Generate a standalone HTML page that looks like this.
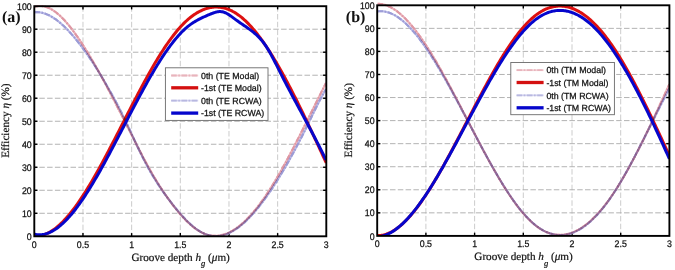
<!DOCTYPE html>
<html><head><meta charset="utf-8"><style>
html,body{margin:0;padding:0;background:#fff;width:675px;height:270px;overflow:hidden}
svg{display:block;text-rendering:geometricPrecision}
.tk{font-family:"Liberation Sans",sans-serif;font-size:9.6px;fill:#111;stroke:#111;stroke-width:0.25px}
.lg{font-family:"Liberation Sans",sans-serif;font-size:8.8px;fill:#111;stroke:#111;stroke-width:0.25px}
.ttl{font-family:"Liberation Serif",serif;font-size:11.2px;fill:#111;stroke:#111;stroke-width:0.2px}
.lab{font-family:"Liberation Serif",serif;font-size:16px;font-weight:bold;fill:#111}
</style></head><body>
<svg xmlns="http://www.w3.org/2000/svg" width="675" height="270" viewBox="0 0 675 270">
<defs><clipPath id="ca"><rect x="34.3" y="3.2" width="292.0" height="233.10000000000002"/></clipPath><clipPath id="cb"><rect x="377.2" y="2.3" width="292.2" height="233.6"/></clipPath></defs>
<rect width="675" height="270" fill="#fff"/>
<line x1="82.97" y1="6.20" x2="82.97" y2="236.30" stroke="#c6c6c6" stroke-width="0.9" stroke-dasharray="5.5 2.3"/>
<line x1="131.63" y1="6.20" x2="131.63" y2="236.30" stroke="#c6c6c6" stroke-width="0.9" stroke-dasharray="5.5 2.3"/>
<line x1="180.30" y1="6.20" x2="180.30" y2="236.30" stroke="#c6c6c6" stroke-width="0.9" stroke-dasharray="5.5 2.3"/>
<line x1="228.97" y1="6.20" x2="228.97" y2="236.30" stroke="#c6c6c6" stroke-width="0.9" stroke-dasharray="5.5 2.3"/>
<line x1="277.63" y1="6.20" x2="277.63" y2="236.30" stroke="#c6c6c6" stroke-width="0.9" stroke-dasharray="5.5 2.3"/>
<line x1="34.30" y1="213.29" x2="326.30" y2="213.29" stroke="#aaaaaa" stroke-width="0.9" stroke-dasharray="5.5 2.3" stroke-dashoffset="-5"/>
<line x1="34.30" y1="190.28" x2="326.30" y2="190.28" stroke="#aaaaaa" stroke-width="0.9" stroke-dasharray="5.5 2.3" stroke-dashoffset="-5"/>
<line x1="34.30" y1="167.27" x2="326.30" y2="167.27" stroke="#aaaaaa" stroke-width="0.9" stroke-dasharray="5.5 2.3" stroke-dashoffset="-5"/>
<line x1="34.30" y1="144.26" x2="326.30" y2="144.26" stroke="#aaaaaa" stroke-width="0.9" stroke-dasharray="5.5 2.3" stroke-dashoffset="-5"/>
<line x1="34.30" y1="121.25" x2="326.30" y2="121.25" stroke="#aaaaaa" stroke-width="0.9" stroke-dasharray="5.5 2.3" stroke-dashoffset="-5"/>
<line x1="34.30" y1="98.24" x2="326.30" y2="98.24" stroke="#aaaaaa" stroke-width="0.9" stroke-dasharray="5.5 2.3" stroke-dashoffset="-5"/>
<line x1="34.30" y1="75.23" x2="326.30" y2="75.23" stroke="#aaaaaa" stroke-width="0.9" stroke-dasharray="5.5 2.3" stroke-dashoffset="-5"/>
<line x1="34.30" y1="52.22" x2="326.30" y2="52.22" stroke="#aaaaaa" stroke-width="0.9" stroke-dasharray="5.5 2.3" stroke-dashoffset="-5"/>
<line x1="34.30" y1="29.21" x2="326.30" y2="29.21" stroke="#aaaaaa" stroke-width="0.9" stroke-dasharray="5.5 2.3" stroke-dashoffset="-5"/>
<line x1="82.97" y1="236.30" x2="82.97" y2="233.10" stroke="#000" stroke-width="1.4"/>
<line x1="82.97" y1="6.20" x2="82.97" y2="9.40" stroke="#000" stroke-width="1.4"/>
<line x1="131.63" y1="236.30" x2="131.63" y2="233.10" stroke="#000" stroke-width="1.4"/>
<line x1="131.63" y1="6.20" x2="131.63" y2="9.40" stroke="#000" stroke-width="1.4"/>
<line x1="180.30" y1="236.30" x2="180.30" y2="233.10" stroke="#000" stroke-width="1.4"/>
<line x1="180.30" y1="6.20" x2="180.30" y2="9.40" stroke="#000" stroke-width="1.4"/>
<line x1="228.97" y1="236.30" x2="228.97" y2="233.10" stroke="#000" stroke-width="1.4"/>
<line x1="228.97" y1="6.20" x2="228.97" y2="9.40" stroke="#000" stroke-width="1.4"/>
<line x1="277.63" y1="236.30" x2="277.63" y2="233.10" stroke="#000" stroke-width="1.4"/>
<line x1="277.63" y1="6.20" x2="277.63" y2="9.40" stroke="#000" stroke-width="1.4"/>
<line x1="34.30" y1="213.29" x2="37.50" y2="213.29" stroke="#000" stroke-width="1.4"/>
<line x1="326.30" y1="213.29" x2="323.10" y2="213.29" stroke="#000" stroke-width="1.4"/>
<line x1="34.30" y1="190.28" x2="37.50" y2="190.28" stroke="#000" stroke-width="1.4"/>
<line x1="326.30" y1="190.28" x2="323.10" y2="190.28" stroke="#000" stroke-width="1.4"/>
<line x1="34.30" y1="167.27" x2="37.50" y2="167.27" stroke="#000" stroke-width="1.4"/>
<line x1="326.30" y1="167.27" x2="323.10" y2="167.27" stroke="#000" stroke-width="1.4"/>
<line x1="34.30" y1="144.26" x2="37.50" y2="144.26" stroke="#000" stroke-width="1.4"/>
<line x1="326.30" y1="144.26" x2="323.10" y2="144.26" stroke="#000" stroke-width="1.4"/>
<line x1="34.30" y1="121.25" x2="37.50" y2="121.25" stroke="#000" stroke-width="1.4"/>
<line x1="326.30" y1="121.25" x2="323.10" y2="121.25" stroke="#000" stroke-width="1.4"/>
<line x1="34.30" y1="98.24" x2="37.50" y2="98.24" stroke="#000" stroke-width="1.4"/>
<line x1="326.30" y1="98.24" x2="323.10" y2="98.24" stroke="#000" stroke-width="1.4"/>
<line x1="34.30" y1="75.23" x2="37.50" y2="75.23" stroke="#000" stroke-width="1.4"/>
<line x1="326.30" y1="75.23" x2="323.10" y2="75.23" stroke="#000" stroke-width="1.4"/>
<line x1="34.30" y1="52.22" x2="37.50" y2="52.22" stroke="#000" stroke-width="1.4"/>
<line x1="326.30" y1="52.22" x2="323.10" y2="52.22" stroke="#000" stroke-width="1.4"/>
<line x1="34.30" y1="29.21" x2="37.50" y2="29.21" stroke="#000" stroke-width="1.4"/>
<line x1="326.30" y1="29.21" x2="323.10" y2="29.21" stroke="#000" stroke-width="1.4"/>
<g clip-path="url(#ca)">
<g style="mix-blend-mode:multiply"><path d="M34.50,6.88 L35.50,6.58 L36.50,6.34 L37.50,6.15 L38.50,6.03 L39.50,5.97 L40.50,5.96 L41.50,6.00 L42.50,6.11 L43.50,6.26 L44.50,6.47 L45.50,6.73 L46.50,7.04 L47.50,7.41 L48.50,7.82 L49.50,8.28 L50.50,8.79 L51.50,9.34 L52.50,9.94 L53.50,10.58 L54.50,11.27 L55.50,12.00 L56.50,12.77 L57.50,13.59 L58.50,14.44 L59.50,15.33 L60.50,16.26 L61.50,17.23 L62.50,18.23 L63.50,19.27 L64.50,20.34 L65.50,21.45 L66.50,22.58 L67.50,23.75 L68.50,24.95 L69.50,26.18 L70.50,27.44 L71.50,28.72 L72.50,30.04 L73.50,31.37 L74.50,32.73 L75.50,34.12 L76.50,35.53 L77.50,36.96 L78.50,38.41 L79.50,39.88 L80.50,41.38 L81.50,42.89 L82.50,44.42 L83.50,45.97 L84.50,47.54 L85.50,49.12 L86.50,50.72 L87.50,52.34 L88.50,53.98 L89.50,55.64 L90.50,57.31 L91.50,58.99 L92.50,60.69 L93.50,62.41 L94.50,64.14 L95.50,65.88 L96.50,67.64 L97.50,69.41 L98.50,71.20 L99.50,72.99 L100.50,74.80 L101.50,76.62 L102.50,78.45 L103.50,80.30 L104.50,82.15 L105.50,84.01 L106.50,85.89 L107.50,87.77 L108.50,89.66 L109.50,91.56 L110.50,93.47 L111.50,95.39 L112.50,97.31 L113.50,99.25 L114.50,101.18 L115.50,103.13 L116.50,105.07 L117.50,107.03 L118.50,108.98 L119.50,110.94 L120.50,112.91 L121.50,114.88 L122.50,116.85 L123.50,118.82 L124.50,120.79 L125.50,122.77 L126.50,124.74 L127.50,126.72 L128.50,128.69 L129.50,130.67 L130.50,132.64 L131.50,134.61 L132.50,136.58 L133.50,138.55 L134.50,140.51 L135.50,142.47 L136.50,144.42 L137.50,146.37 L138.50,148.32 L139.50,150.26 L140.50,152.19 L141.50,154.11 L142.50,156.02 L143.50,157.92 L144.50,159.81 L145.50,161.68 L146.50,163.53 L147.50,165.37 L148.50,167.18 L149.50,168.97 L150.50,170.74 L151.50,172.49 L152.50,174.22 L153.50,175.93 L154.50,177.62 L155.50,179.28 L156.50,180.93 L157.50,182.55 L158.50,184.15 L159.50,185.74 L160.50,187.30 L161.50,188.85 L162.50,190.37 L163.50,191.87 L164.50,193.36 L165.50,194.82 L166.50,196.26 L167.50,197.69 L168.50,199.10 L169.50,200.48 L170.50,201.85 L171.50,203.20 L172.50,204.53 L173.50,205.84 L174.50,207.13 L175.50,208.41 L176.50,209.66 L177.50,210.89 L178.50,212.09 L179.50,213.28 L180.50,214.44 L181.50,215.58 L182.50,216.69 L183.50,217.78 L184.50,218.84 L185.50,219.88 L186.50,220.89 L187.50,221.87 L188.50,222.82 L189.50,223.74 L190.50,224.64 L191.50,225.50 L192.50,226.34 L193.50,227.14 L194.50,227.91 L195.50,228.65 L196.50,229.35 L197.50,230.03 L198.50,230.66 L199.50,231.27 L200.50,231.83 L201.50,232.36 L202.50,232.86 L203.50,233.31 L204.50,233.73 L205.50,234.11 L206.50,234.45 L207.50,234.75 L208.50,235.02 L209.50,235.24 L210.50,235.43 L211.50,235.59 L212.50,235.70 L213.50,235.78 L214.50,235.82 L215.50,235.83 L216.50,235.80 L217.50,235.74 L218.50,235.64 L219.50,235.50 L220.50,235.33 L221.50,235.13 L222.50,234.89 L223.50,234.62 L224.50,234.31 L225.50,233.97 L226.50,233.60 L227.50,233.19 L228.50,232.75 L229.50,232.28 L230.50,231.78 L231.50,231.24 L232.50,230.68 L233.50,230.08 L234.50,229.45 L235.50,228.79 L236.50,228.10 L237.50,227.38 L238.50,226.63 L239.50,225.85 L240.50,225.05 L241.50,224.21 L242.50,223.34 L243.50,222.45 L244.50,221.52 L245.50,220.57 L246.50,219.59 L247.50,218.58 L248.50,217.55 L249.50,216.49 L250.50,215.40 L251.50,214.28 L252.50,213.14 L253.50,211.98 L254.50,210.78 L255.50,209.57 L256.50,208.32 L257.50,207.05 L258.50,205.76 L259.50,204.45 L260.50,203.10 L261.50,201.74 L262.50,200.35 L263.50,198.94 L264.50,197.51 L265.50,196.05 L266.50,194.57 L267.50,193.07 L268.50,191.54 L269.50,190.00 L270.50,188.43 L271.50,186.84 L272.50,185.23 L273.50,183.61 L274.50,181.96 L275.50,180.29 L276.50,178.61 L277.50,176.90 L278.50,175.18 L279.50,173.44 L280.50,171.69 L281.50,169.92 L282.50,168.13 L283.50,166.33 L284.50,164.52 L285.50,162.69 L286.50,160.85 L287.50,158.99 L288.50,157.12 L289.50,155.24 L290.50,153.35 L291.50,151.45 L292.50,149.54 L293.50,147.62 L294.50,145.69 L295.50,143.75 L296.50,141.80 L297.50,139.84 L298.50,137.88 L299.50,135.91 L300.50,133.93 L301.50,131.95 L302.50,129.96 L303.50,127.97 L304.50,125.98 L305.50,123.98 L306.50,121.97 L307.50,119.97 L308.50,117.96 L309.50,115.95 L310.50,113.94 L311.50,111.93 L312.50,109.92 L313.50,107.91 L314.50,105.90 L315.50,103.89 L316.50,101.88 L317.50,99.88 L318.50,97.88 L319.50,95.88 L320.50,93.89 L321.50,91.90 L322.50,89.91 L323.50,87.93 L324.50,85.96 L325.50,83.99 L326.00,83.01" fill="none" stroke="#ebb2bb" stroke-width="2.1"/>
<path d="M34.50,6.88 L35.50,6.58 L36.50,6.34 L37.50,6.15 L38.50,6.03 L39.50,5.97 L40.50,5.96 L41.50,6.00 L42.50,6.11 L43.50,6.26 L44.50,6.47 L45.50,6.73 L46.50,7.04 L47.50,7.41 L48.50,7.82 L49.50,8.28 L50.50,8.79 L51.50,9.34 L52.50,9.94 L53.50,10.58 L54.50,11.27 L55.50,12.00 L56.50,12.77 L57.50,13.59 L58.50,14.44 L59.50,15.33 L60.50,16.26 L61.50,17.23 L62.50,18.23 L63.50,19.27 L64.50,20.34 L65.50,21.45 L66.50,22.58 L67.50,23.75 L68.50,24.95 L69.50,26.18 L70.50,27.44 L71.50,28.72 L72.50,30.04 L73.50,31.37 L74.50,32.73 L75.50,34.12 L76.50,35.53 L77.50,36.96 L78.50,38.41 L79.50,39.88 L80.50,41.38 L81.50,42.89 L82.50,44.42 L83.50,45.97 L84.50,47.54 L85.50,49.12 L86.50,50.72 L87.50,52.34 L88.50,53.98 L89.50,55.64 L90.50,57.31 L91.50,58.99 L92.50,60.69 L93.50,62.41 L94.50,64.14 L95.50,65.88 L96.50,67.64 L97.50,69.41 L98.50,71.20 L99.50,72.99 L100.50,74.80 L101.50,76.62 L102.50,78.45 L103.50,80.30 L104.50,82.15 L105.50,84.01 L106.50,85.89 L107.50,87.77 L108.50,89.66 L109.50,91.56 L110.50,93.47 L111.50,95.39 L112.50,97.31 L113.50,99.25 L114.50,101.18 L115.50,103.13 L116.50,105.07 L117.50,107.03 L118.50,108.98 L119.50,110.94 L120.50,112.91 L121.50,114.88 L122.50,116.85 L123.50,118.82 L124.50,120.79 L125.50,122.77 L126.50,124.74 L127.50,126.72 L128.50,128.69 L129.50,130.67 L130.50,132.64 L131.50,134.61 L132.50,136.58 L133.50,138.55 L134.50,140.51 L135.50,142.47 L136.50,144.42 L137.50,146.37 L138.50,148.32 L139.50,150.26 L140.50,152.19 L141.50,154.11 L142.50,156.02 L143.50,157.92 L144.50,159.81 L145.50,161.68 L146.50,163.53 L147.50,165.37 L148.50,167.18 L149.50,168.97 L150.50,170.74 L151.50,172.49 L152.50,174.22 L153.50,175.93 L154.50,177.62 L155.50,179.28 L156.50,180.93 L157.50,182.55 L158.50,184.15 L159.50,185.74 L160.50,187.30 L161.50,188.85 L162.50,190.37 L163.50,191.87 L164.50,193.36 L165.50,194.82 L166.50,196.26 L167.50,197.69 L168.50,199.10 L169.50,200.48 L170.50,201.85 L171.50,203.20 L172.50,204.53 L173.50,205.84 L174.50,207.13 L175.50,208.41 L176.50,209.66 L177.50,210.89 L178.50,212.09 L179.50,213.28 L180.50,214.44 L181.50,215.58 L182.50,216.69 L183.50,217.78 L184.50,218.84 L185.50,219.88 L186.50,220.89 L187.50,221.87 L188.50,222.82 L189.50,223.74 L190.50,224.64 L191.50,225.50 L192.50,226.34 L193.50,227.14 L194.50,227.91 L195.50,228.65 L196.50,229.35 L197.50,230.03 L198.50,230.66 L199.50,231.27 L200.50,231.83 L201.50,232.36 L202.50,232.86 L203.50,233.31 L204.50,233.73 L205.50,234.11 L206.50,234.45 L207.50,234.75 L208.50,235.02 L209.50,235.24 L210.50,235.43 L211.50,235.59 L212.50,235.70 L213.50,235.78 L214.50,235.82 L215.50,235.83 L216.50,235.80 L217.50,235.74 L218.50,235.64 L219.50,235.50 L220.50,235.33 L221.50,235.13 L222.50,234.89 L223.50,234.62 L224.50,234.31 L225.50,233.97 L226.50,233.60 L227.50,233.19 L228.50,232.75 L229.50,232.28 L230.50,231.78 L231.50,231.24 L232.50,230.68 L233.50,230.08 L234.50,229.45 L235.50,228.79 L236.50,228.10 L237.50,227.38 L238.50,226.63 L239.50,225.85 L240.50,225.05 L241.50,224.21 L242.50,223.34 L243.50,222.45 L244.50,221.52 L245.50,220.57 L246.50,219.59 L247.50,218.58 L248.50,217.55 L249.50,216.49 L250.50,215.40 L251.50,214.28 L252.50,213.14 L253.50,211.98 L254.50,210.78 L255.50,209.57 L256.50,208.32 L257.50,207.05 L258.50,205.76 L259.50,204.45 L260.50,203.10 L261.50,201.74 L262.50,200.35 L263.50,198.94 L264.50,197.51 L265.50,196.05 L266.50,194.57 L267.50,193.07 L268.50,191.54 L269.50,190.00 L270.50,188.43 L271.50,186.84 L272.50,185.23 L273.50,183.61 L274.50,181.96 L275.50,180.29 L276.50,178.61 L277.50,176.90 L278.50,175.18 L279.50,173.44 L280.50,171.69 L281.50,169.92 L282.50,168.13 L283.50,166.33 L284.50,164.52 L285.50,162.69 L286.50,160.85 L287.50,158.99 L288.50,157.12 L289.50,155.24 L290.50,153.35 L291.50,151.45 L292.50,149.54 L293.50,147.62 L294.50,145.69 L295.50,143.75 L296.50,141.80 L297.50,139.84 L298.50,137.88 L299.50,135.91 L300.50,133.93 L301.50,131.95 L302.50,129.96 L303.50,127.97 L304.50,125.98 L305.50,123.98 L306.50,121.97 L307.50,119.97 L308.50,117.96 L309.50,115.95 L310.50,113.94 L311.50,111.93 L312.50,109.92 L313.50,107.91 L314.50,105.90 L315.50,103.89 L316.50,101.88 L317.50,99.88 L318.50,97.88 L319.50,95.88 L320.50,93.89 L321.50,91.90 L322.50,89.91 L323.50,87.93 L324.50,85.96 L325.50,83.99 L326.00,83.01" fill="none" stroke="#de98a4" stroke-width="2.1" stroke-dasharray="5.5 1.6 1.6 1.6"/></g>
<path d="M34.30,235.80 L35.30,235.87 L36.30,235.89 L37.30,235.87 L38.30,235.81 L39.30,235.70 L40.30,235.55 L41.30,235.35 L42.30,235.11 L43.30,234.83 L44.30,234.51 L45.30,234.15 L46.30,233.74 L47.30,233.30 L48.30,232.82 L49.30,232.30 L50.30,231.74 L51.30,231.14 L52.30,230.50 L53.30,229.83 L54.30,229.12 L55.30,228.38 L56.30,227.60 L57.30,226.79 L58.30,225.94 L59.30,225.06 L60.30,224.14 L61.30,223.19 L62.30,222.21 L63.30,221.20 L64.30,220.16 L65.30,219.08 L66.30,217.98 L67.30,216.85 L68.30,215.69 L69.30,214.50 L70.30,213.28 L71.30,212.03 L72.30,210.76 L73.30,209.46 L74.30,208.13 L75.30,206.78 L76.30,205.41 L77.30,204.01 L78.30,202.58 L79.30,201.14 L80.30,199.67 L81.30,198.18 L82.30,196.66 L83.30,195.13 L84.30,193.57 L85.30,192.00 L86.30,190.40 L87.30,188.79 L88.30,187.15 L89.30,185.50 L90.30,183.83 L91.30,182.15 L92.30,180.44 L93.30,178.73 L94.30,176.99 L95.30,175.24 L96.30,173.48 L97.30,171.70 L98.30,169.91 L99.30,168.11 L100.30,166.29 L101.30,164.47 L102.30,162.63 L103.30,160.78 L104.30,158.92 L105.30,157.05 L106.30,155.17 L107.30,153.28 L108.30,151.38 L109.30,149.48 L110.30,147.57 L111.30,145.65 L112.30,143.73 L113.30,141.80 L114.30,139.86 L115.30,137.93 L116.30,135.98 L117.30,134.04 L118.30,132.09 L119.30,130.14 L120.30,128.18 L121.30,126.23 L122.30,124.27 L123.30,122.31 L124.30,120.36 L125.30,118.40 L126.30,116.45 L127.30,114.49 L128.30,112.54 L129.30,110.60 L130.30,108.65 L131.30,106.71 L132.30,104.77 L133.30,102.84 L134.30,100.91 L135.30,98.99 L136.30,97.08 L137.30,95.17 L138.30,93.27 L139.30,91.38 L140.30,89.50 L141.30,87.62 L142.30,85.76 L143.30,83.90 L144.30,82.06 L145.30,80.22 L146.30,78.40 L147.30,76.59 L148.30,74.80 L149.30,73.01 L150.30,71.24 L151.30,69.49 L152.30,67.74 L153.30,66.02 L154.30,64.31 L155.30,62.61 L156.30,60.94 L157.30,59.28 L158.30,57.63 L159.30,56.01 L160.30,54.40 L161.30,52.82 L162.30,51.25 L163.30,49.71 L164.30,48.18 L165.30,46.68 L166.30,45.20 L167.30,43.74 L168.30,42.31 L169.30,40.89 L170.30,39.51 L171.30,38.14 L172.30,36.81 L173.30,35.49 L174.30,34.21 L175.30,32.95 L176.30,31.72 L177.30,30.51 L178.30,29.33 L179.30,28.19 L180.30,27.07 L181.30,25.98 L182.30,24.92 L183.30,23.89 L184.30,22.89 L185.30,21.93 L186.30,20.99 L187.30,20.08 L188.30,19.20 L189.30,18.35 L190.30,17.53 L191.30,16.75 L192.30,15.99 L193.30,15.26 L194.30,14.56 L195.30,13.90 L196.30,13.26 L197.30,12.66 L198.30,12.09 L199.30,11.54 L200.30,11.03 L201.30,10.55 L202.30,10.10 L203.30,9.68 L204.30,9.29 L205.30,8.93 L206.30,8.61 L207.30,8.31 L208.30,8.05 L209.30,7.81 L210.30,7.61 L211.30,7.44 L212.30,7.30 L213.30,7.20 L214.30,7.12 L215.30,7.08 L216.30,7.06 L217.30,7.08 L218.30,7.13 L219.30,7.22 L220.30,7.33 L221.30,7.48 L222.30,7.66 L223.30,7.87 L224.30,8.11 L225.30,8.38 L226.30,8.69 L227.30,9.03 L228.30,9.40 L229.30,9.80 L230.30,10.24 L231.30,10.71 L232.30,11.21 L233.30,11.74 L234.30,12.31 L235.30,12.91 L236.30,13.54 L237.30,14.20 L238.30,14.90 L239.30,15.63 L240.30,16.39 L241.30,17.19 L242.30,18.01 L243.30,18.87 L244.30,19.76 L245.30,20.68 L246.30,21.63 L247.30,22.62 L248.30,23.63 L249.30,24.67 L250.30,25.74 L251.30,26.84 L252.30,27.97 L253.30,29.12 L254.30,30.31 L255.30,31.52 L256.30,32.75 L257.30,34.02 L258.30,35.31 L259.30,36.62 L260.30,37.96 L261.30,39.33 L262.30,40.72 L263.30,42.13 L264.30,43.57 L265.30,45.03 L266.30,46.51 L267.30,48.02 L268.30,49.55 L269.30,51.10 L270.30,52.67 L271.30,54.26 L272.30,55.88 L273.30,57.51 L274.30,59.16 L275.30,60.83 L276.30,62.53 L277.30,64.24 L278.30,65.97 L279.30,67.71 L280.30,69.48 L281.30,71.26 L282.30,73.06 L283.30,74.87 L284.30,76.70 L285.30,78.55 L286.30,80.41 L287.30,82.29 L288.30,84.18 L289.30,86.08 L290.30,88.00 L291.30,89.94 L292.30,91.88 L293.30,93.84 L294.30,95.81 L295.30,97.79 L296.30,99.78 L297.30,101.79 L298.30,103.80 L299.30,105.83 L300.30,107.86 L301.30,109.91 L302.30,111.96 L303.30,114.02 L304.30,116.09 L305.30,118.17 L306.30,120.26 L307.30,122.35 L308.30,124.45 L309.30,126.56 L310.30,128.67 L311.30,130.79 L312.30,132.91 L313.30,135.04 L314.30,137.17 L315.30,139.31 L316.30,141.45 L317.30,143.59 L318.30,145.74 L319.30,147.89 L320.30,150.04 L321.30,152.19 L322.30,154.35 L323.30,156.50 L324.30,158.66 L325.30,160.82 L326.30,162.97" fill="none" stroke="#dd1010" stroke-width="3.0" stroke-linejoin="round"/>
<g style="mix-blend-mode:multiply"><path d="M34.50,12.16 L35.50,12.10 L36.50,12.09 L37.50,12.12 L38.50,12.19 L39.50,12.30 L40.50,12.45 L41.50,12.64 L42.50,12.88 L43.50,13.15 L44.50,13.46 L45.50,13.81 L46.50,14.19 L47.50,14.61 L48.50,15.07 L49.50,15.56 L50.50,16.09 L51.50,16.65 L52.50,17.25 L53.50,17.88 L54.50,18.54 L55.50,19.23 L56.50,19.96 L57.50,20.71 L58.50,21.50 L59.50,22.31 L60.50,23.15 L61.50,24.02 L62.50,24.92 L63.50,25.85 L64.50,26.80 L65.50,27.77 L66.50,28.77 L67.50,29.80 L68.50,30.85 L69.50,31.92 L70.50,33.02 L71.50,34.13 L72.50,35.27 L73.50,36.43 L74.50,37.61 L75.50,38.81 L76.50,40.03 L77.50,41.28 L78.50,42.54 L79.50,43.82 L80.50,45.12 L81.50,46.44 L82.50,47.78 L83.50,49.13 L84.50,50.51 L85.50,51.90 L86.50,53.31 L87.50,54.74 L88.50,56.19 L89.50,57.66 L90.50,59.14 L91.50,60.63 L92.50,62.15 L93.50,63.68 L94.50,65.23 L95.50,66.79 L96.50,68.37 L97.50,69.96 L98.50,71.57 L99.50,73.19 L100.50,74.83 L101.50,76.49 L102.50,78.15 L103.50,79.83 L104.50,81.53 L105.50,83.24 L106.50,84.96 L107.50,86.69 L108.50,88.44 L109.50,90.20 L110.50,91.97 L111.50,93.76 L112.50,95.56 L113.50,97.38 L114.50,99.22 L115.50,101.07 L116.50,102.94 L117.50,104.83 L118.50,106.74 L119.50,108.67 L120.50,110.63 L121.50,112.60 L122.50,114.60 L123.50,116.63 L124.50,118.67 L125.50,120.75 L126.50,122.85 L127.50,124.98 L128.50,127.13 L129.50,129.29 L130.50,131.47 L131.50,133.66 L132.50,135.85 L133.50,138.03 L134.50,140.22 L135.50,142.39 L136.50,144.55 L137.50,146.69 L138.50,148.81 L139.50,150.91 L140.50,152.97 L141.50,155.01 L142.50,157.02 L143.50,159.00 L144.50,160.95 L145.50,162.87 L146.50,164.75 L147.50,166.61 L148.50,168.43 L149.50,170.22 L150.50,171.98 L151.50,173.70 L152.50,175.40 L153.50,177.06 L154.50,178.70 L155.50,180.31 L156.50,181.89 L157.50,183.44 L158.50,184.97 L159.50,186.48 L160.50,187.96 L161.50,189.42 L162.50,190.86 L163.50,192.28 L164.50,193.68 L165.50,195.06 L166.50,196.42 L167.50,197.76 L168.50,199.09 L169.50,200.40 L170.50,201.70 L171.50,202.99 L172.50,204.26 L173.50,205.52 L174.50,206.77 L175.50,208.00 L176.50,209.22 L177.50,210.43 L178.50,211.61 L179.50,212.78 L180.50,213.93 L181.50,215.06 L182.50,216.17 L183.50,217.26 L184.50,218.33 L185.50,219.37 L186.50,220.39 L187.50,221.39 L188.50,222.36 L189.50,223.31 L190.50,224.22 L191.50,225.11 L192.50,225.98 L193.50,226.81 L194.50,227.61 L195.50,228.38 L196.50,229.11 L197.50,229.82 L198.50,230.49 L199.50,231.12 L200.50,231.72 L201.50,232.29 L202.50,232.81 L203.50,233.30 L204.50,233.75 L205.50,234.16 L206.50,234.52 L207.50,234.85 L208.50,235.14 L209.50,235.39 L210.50,235.61 L211.50,235.78 L212.50,235.92 L213.50,236.02 L214.50,236.08 L215.50,236.10 L216.50,236.09 L217.50,236.04 L218.50,235.96 L219.50,235.84 L220.50,235.69 L221.50,235.50 L222.50,235.28 L223.50,235.02 L224.50,234.73 L225.50,234.41 L226.50,234.05 L227.50,233.66 L228.50,233.24 L229.50,232.78 L230.50,232.30 L231.50,231.78 L232.50,231.23 L233.50,230.66 L234.50,230.05 L235.50,229.41 L236.50,228.74 L237.50,228.04 L238.50,227.32 L239.50,226.56 L240.50,225.78 L241.50,224.97 L242.50,224.13 L243.50,223.26 L244.50,222.37 L245.50,221.45 L246.50,220.50 L247.50,219.53 L248.50,218.53 L249.50,217.51 L250.50,216.46 L251.50,215.39 L252.50,214.29 L253.50,213.17 L254.50,212.03 L255.50,210.86 L256.50,209.67 L257.50,208.46 L258.50,207.23 L259.50,205.97 L260.50,204.69 L261.50,203.40 L262.50,202.08 L263.50,200.74 L264.50,199.38 L265.50,198.00 L266.50,196.60 L267.50,195.18 L268.50,193.74 L269.50,192.29 L270.50,190.81 L271.50,189.32 L272.50,187.81 L273.50,186.29 L274.50,184.74 L275.50,183.19 L276.50,181.61 L277.50,180.02 L278.50,178.41 L279.50,176.78 L280.50,175.14 L281.50,173.48 L282.50,171.81 L283.50,170.12 L284.50,168.41 L285.50,166.69 L286.50,164.95 L287.50,163.20 L288.50,161.43 L289.50,159.65 L290.50,157.86 L291.50,156.04 L292.50,154.22 L293.50,152.38 L294.50,150.52 L295.50,148.66 L296.50,146.77 L297.50,144.88 L298.50,142.97 L299.50,141.04 L300.50,139.11 L301.50,137.16 L302.50,135.19 L303.50,133.22 L304.50,131.23 L305.50,129.22 L306.50,127.21 L307.50,125.18 L308.50,123.14 L309.50,121.08 L310.50,119.02 L311.50,116.95 L312.50,114.88 L313.50,112.82 L314.50,110.77 L315.50,108.73 L316.50,106.71 L317.50,104.71 L318.50,102.74 L319.50,100.80 L320.50,98.90 L321.50,97.05 L322.50,95.24 L323.50,93.48 L324.50,91.78 L325.50,90.13 L326.00,89.34" fill="none" stroke="#babae8" stroke-width="2.1"/>
<path d="M34.50,12.16 L35.50,12.10 L36.50,12.09 L37.50,12.12 L38.50,12.19 L39.50,12.30 L40.50,12.45 L41.50,12.64 L42.50,12.88 L43.50,13.15 L44.50,13.46 L45.50,13.81 L46.50,14.19 L47.50,14.61 L48.50,15.07 L49.50,15.56 L50.50,16.09 L51.50,16.65 L52.50,17.25 L53.50,17.88 L54.50,18.54 L55.50,19.23 L56.50,19.96 L57.50,20.71 L58.50,21.50 L59.50,22.31 L60.50,23.15 L61.50,24.02 L62.50,24.92 L63.50,25.85 L64.50,26.80 L65.50,27.77 L66.50,28.77 L67.50,29.80 L68.50,30.85 L69.50,31.92 L70.50,33.02 L71.50,34.13 L72.50,35.27 L73.50,36.43 L74.50,37.61 L75.50,38.81 L76.50,40.03 L77.50,41.28 L78.50,42.54 L79.50,43.82 L80.50,45.12 L81.50,46.44 L82.50,47.78 L83.50,49.13 L84.50,50.51 L85.50,51.90 L86.50,53.31 L87.50,54.74 L88.50,56.19 L89.50,57.66 L90.50,59.14 L91.50,60.63 L92.50,62.15 L93.50,63.68 L94.50,65.23 L95.50,66.79 L96.50,68.37 L97.50,69.96 L98.50,71.57 L99.50,73.19 L100.50,74.83 L101.50,76.49 L102.50,78.15 L103.50,79.83 L104.50,81.53 L105.50,83.24 L106.50,84.96 L107.50,86.69 L108.50,88.44 L109.50,90.20 L110.50,91.97 L111.50,93.76 L112.50,95.56 L113.50,97.38 L114.50,99.22 L115.50,101.07 L116.50,102.94 L117.50,104.83 L118.50,106.74 L119.50,108.67 L120.50,110.63 L121.50,112.60 L122.50,114.60 L123.50,116.63 L124.50,118.67 L125.50,120.75 L126.50,122.85 L127.50,124.98 L128.50,127.13 L129.50,129.29 L130.50,131.47 L131.50,133.66 L132.50,135.85 L133.50,138.03 L134.50,140.22 L135.50,142.39 L136.50,144.55 L137.50,146.69 L138.50,148.81 L139.50,150.91 L140.50,152.97 L141.50,155.01 L142.50,157.02 L143.50,159.00 L144.50,160.95 L145.50,162.87 L146.50,164.75 L147.50,166.61 L148.50,168.43 L149.50,170.22 L150.50,171.98 L151.50,173.70 L152.50,175.40 L153.50,177.06 L154.50,178.70 L155.50,180.31 L156.50,181.89 L157.50,183.44 L158.50,184.97 L159.50,186.48 L160.50,187.96 L161.50,189.42 L162.50,190.86 L163.50,192.28 L164.50,193.68 L165.50,195.06 L166.50,196.42 L167.50,197.76 L168.50,199.09 L169.50,200.40 L170.50,201.70 L171.50,202.99 L172.50,204.26 L173.50,205.52 L174.50,206.77 L175.50,208.00 L176.50,209.22 L177.50,210.43 L178.50,211.61 L179.50,212.78 L180.50,213.93 L181.50,215.06 L182.50,216.17 L183.50,217.26 L184.50,218.33 L185.50,219.37 L186.50,220.39 L187.50,221.39 L188.50,222.36 L189.50,223.31 L190.50,224.22 L191.50,225.11 L192.50,225.98 L193.50,226.81 L194.50,227.61 L195.50,228.38 L196.50,229.11 L197.50,229.82 L198.50,230.49 L199.50,231.12 L200.50,231.72 L201.50,232.29 L202.50,232.81 L203.50,233.30 L204.50,233.75 L205.50,234.16 L206.50,234.52 L207.50,234.85 L208.50,235.14 L209.50,235.39 L210.50,235.61 L211.50,235.78 L212.50,235.92 L213.50,236.02 L214.50,236.08 L215.50,236.10 L216.50,236.09 L217.50,236.04 L218.50,235.96 L219.50,235.84 L220.50,235.69 L221.50,235.50 L222.50,235.28 L223.50,235.02 L224.50,234.73 L225.50,234.41 L226.50,234.05 L227.50,233.66 L228.50,233.24 L229.50,232.78 L230.50,232.30 L231.50,231.78 L232.50,231.23 L233.50,230.66 L234.50,230.05 L235.50,229.41 L236.50,228.74 L237.50,228.04 L238.50,227.32 L239.50,226.56 L240.50,225.78 L241.50,224.97 L242.50,224.13 L243.50,223.26 L244.50,222.37 L245.50,221.45 L246.50,220.50 L247.50,219.53 L248.50,218.53 L249.50,217.51 L250.50,216.46 L251.50,215.39 L252.50,214.29 L253.50,213.17 L254.50,212.03 L255.50,210.86 L256.50,209.67 L257.50,208.46 L258.50,207.23 L259.50,205.97 L260.50,204.69 L261.50,203.40 L262.50,202.08 L263.50,200.74 L264.50,199.38 L265.50,198.00 L266.50,196.60 L267.50,195.18 L268.50,193.74 L269.50,192.29 L270.50,190.81 L271.50,189.32 L272.50,187.81 L273.50,186.29 L274.50,184.74 L275.50,183.19 L276.50,181.61 L277.50,180.02 L278.50,178.41 L279.50,176.78 L280.50,175.14 L281.50,173.48 L282.50,171.81 L283.50,170.12 L284.50,168.41 L285.50,166.69 L286.50,164.95 L287.50,163.20 L288.50,161.43 L289.50,159.65 L290.50,157.86 L291.50,156.04 L292.50,154.22 L293.50,152.38 L294.50,150.52 L295.50,148.66 L296.50,146.77 L297.50,144.88 L298.50,142.97 L299.50,141.04 L300.50,139.11 L301.50,137.16 L302.50,135.19 L303.50,133.22 L304.50,131.23 L305.50,129.22 L306.50,127.21 L307.50,125.18 L308.50,123.14 L309.50,121.08 L310.50,119.02 L311.50,116.95 L312.50,114.88 L313.50,112.82 L314.50,110.77 L315.50,108.73 L316.50,106.71 L317.50,104.71 L318.50,102.74 L319.50,100.80 L320.50,98.90 L321.50,97.05 L322.50,95.24 L323.50,93.48 L324.50,91.78 L325.50,90.13 L326.00,89.34" fill="none" stroke="#9c9cd6" stroke-width="2.1" stroke-dasharray="5.5 1.6 1.6 1.6"/></g>
<path d="M34.30,234.13 L35.30,234.34 L36.30,234.51 L37.30,234.63 L38.30,234.71 L39.30,234.73 L40.30,234.71 L41.30,234.65 L42.30,234.54 L43.30,234.39 L44.30,234.20 L45.30,233.96 L46.30,233.68 L47.30,233.35 L48.30,232.99 L49.30,232.58 L50.30,232.14 L51.30,231.65 L52.30,231.13 L53.30,230.56 L54.30,229.96 L55.30,229.32 L56.30,228.64 L57.30,227.93 L58.30,227.18 L59.30,226.40 L60.30,225.58 L61.30,224.72 L62.30,223.84 L63.30,222.92 L64.30,221.96 L65.30,220.98 L66.30,219.96 L67.30,218.91 L68.30,217.83 L69.30,216.72 L70.30,215.58 L71.30,214.41 L72.30,213.22 L73.30,211.99 L74.30,210.74 L75.30,209.47 L76.30,208.16 L77.30,206.83 L78.30,205.48 L79.30,204.10 L80.30,202.69 L81.30,201.26 L82.30,199.81 L83.30,198.34 L84.30,196.85 L85.30,195.33 L86.30,193.79 L87.30,192.23 L88.30,190.66 L89.30,189.06 L90.30,187.45 L91.30,185.81 L92.30,184.16 L93.30,182.49 L94.30,180.81 L95.30,179.11 L96.30,177.39 L97.30,175.66 L98.30,173.92 L99.30,172.16 L100.30,170.39 L101.30,168.60 L102.30,166.81 L103.30,165.00 L104.30,163.18 L105.30,161.35 L106.30,159.51 L107.30,157.66 L108.30,155.80 L109.30,153.93 L110.30,152.06 L111.30,150.17 L112.30,148.29 L113.30,146.39 L114.30,144.49 L115.30,142.58 L116.30,140.67 L117.30,138.76 L118.30,136.84 L119.30,134.92 L120.30,133.00 L121.30,131.07 L122.30,129.14 L123.30,127.22 L124.30,125.29 L125.30,123.36 L126.30,121.43 L127.30,119.51 L128.30,117.59 L129.30,115.66 L130.30,113.75 L131.30,111.83 L132.30,109.92 L133.30,108.02 L134.30,106.11 L135.30,104.22 L136.30,102.33 L137.30,100.45 L138.30,98.57 L139.30,96.71 L140.30,94.85 L141.30,93.00 L142.30,91.16 L143.30,89.33 L144.30,87.51 L145.30,85.70 L146.30,83.91 L147.30,82.12 L148.30,80.35 L149.30,78.59 L150.30,76.85 L151.30,75.12 L152.30,73.40 L153.30,71.70 L154.30,70.02 L155.30,68.35 L156.30,66.70 L157.30,65.06 L158.30,63.45 L159.30,61.85 L160.30,60.28 L161.30,58.72 L162.30,57.18 L163.30,55.67 L164.30,54.17 L165.30,52.70 L166.30,51.25 L167.30,49.82 L168.30,48.42 L169.30,47.04 L170.30,45.69 L171.30,44.36 L172.30,43.05 L173.30,41.77 L174.30,40.52 L175.30,39.30 L176.30,38.10 L177.30,36.94 L178.30,35.80 L179.30,34.69 L180.30,33.61 L181.30,32.56 L182.30,31.55 L183.30,30.56 L184.30,29.61 L185.30,28.69 L186.30,27.80 L187.30,26.95 L188.30,26.13 L189.30,25.35 L190.30,24.60 L191.30,23.88 L192.30,23.20 L193.30,22.56 L194.30,21.94 L195.30,21.34 L196.30,20.77 L197.30,20.22 L198.30,19.69 L199.30,19.17 L200.30,18.67 L201.30,18.17 L202.30,17.69 L203.30,17.21 L204.30,16.75 L205.30,16.29 L206.30,15.83 L207.30,15.39 L208.30,14.96 L209.30,14.54 L210.30,14.13 L211.30,13.74 L212.30,13.35 L213.30,12.99 L214.30,12.64 L215.30,12.33 L216.30,12.06 L217.30,11.84 L218.30,11.68 L219.30,11.59 L220.30,11.56 L221.30,11.63 L222.30,11.78 L223.30,12.02 L224.30,12.35 L225.30,12.76 L226.30,13.23 L227.30,13.77 L228.30,14.36 L229.30,15.00 L230.30,15.67 L231.30,16.38 L232.30,17.11 L233.30,17.85 L234.30,18.60 L235.30,19.35 L236.30,20.09 L237.30,20.82 L238.30,21.53 L239.30,22.24 L240.30,22.94 L241.30,23.63 L242.30,24.31 L243.30,25.00 L244.30,25.68 L245.30,26.36 L246.30,27.04 L247.30,27.73 L248.30,28.43 L249.30,29.13 L250.30,29.86 L251.30,30.60 L252.30,31.36 L253.30,32.15 L254.30,32.97 L255.30,33.82 L256.30,34.72 L257.30,35.65 L258.30,36.64 L259.30,37.67 L260.30,38.76 L261.30,39.91 L262.30,41.12 L263.30,42.39 L264.30,43.74 L265.30,45.16 L266.30,46.65 L267.30,48.22 L268.30,49.86 L269.30,51.56 L270.30,53.31 L271.30,55.11 L272.30,56.96 L273.30,58.84 L274.30,60.76 L275.30,62.70 L276.30,64.66 L277.30,66.64 L278.30,68.63 L279.30,70.62 L280.30,72.60 L281.30,74.58 L282.30,76.55 L283.30,78.51 L284.30,80.45 L285.30,82.38 L286.30,84.31 L287.30,86.22 L288.30,88.13 L289.30,90.03 L290.30,91.92 L291.30,93.80 L292.30,95.68 L293.30,97.55 L294.30,99.42 L295.30,101.28 L296.30,103.14 L297.30,105.00 L298.30,106.85 L299.30,108.70 L300.30,110.56 L301.30,112.41 L302.30,114.26 L303.30,116.12 L304.30,117.97 L305.30,119.83 L306.30,121.69 L307.30,123.56 L308.30,125.43 L309.30,127.30 L310.30,129.18 L311.30,131.07 L312.30,132.97 L313.30,134.87 L314.30,136.78 L315.30,138.70 L316.30,140.63 L317.30,142.57 L318.30,144.52 L319.30,146.48 L320.30,148.46 L321.30,150.44 L322.30,152.44 L323.30,154.46 L324.30,156.49 L325.30,158.54 L326.00,159.98" fill="none" stroke="#0606cc" stroke-width="3.0" stroke-linejoin="round"/>
</g>
<rect x="34.30" y="6.20" width="292.00" height="230.10" fill="none" stroke="#000" stroke-width="1.9"/>
<text x="34.30" y="247.60" class="tk" text-anchor="middle" textLength="4.89" lengthAdjust="spacingAndGlyphs">0</text>
<text x="82.97" y="247.60" class="tk" text-anchor="middle" textLength="12.23" lengthAdjust="spacingAndGlyphs">0.5</text>
<text x="131.63" y="247.60" class="tk" text-anchor="middle" textLength="4.89" lengthAdjust="spacingAndGlyphs">1</text>
<text x="180.30" y="247.60" class="tk" text-anchor="middle" textLength="12.23" lengthAdjust="spacingAndGlyphs">1.5</text>
<text x="228.97" y="247.60" class="tk" text-anchor="middle" textLength="4.89" lengthAdjust="spacingAndGlyphs">2</text>
<text x="277.63" y="247.60" class="tk" text-anchor="middle" textLength="12.23" lengthAdjust="spacingAndGlyphs">2.5</text>
<text x="326.30" y="247.60" class="tk" text-anchor="middle" textLength="4.89" lengthAdjust="spacingAndGlyphs">3</text>
<text x="31.70" y="239.90" class="tk" text-anchor="end" textLength="4.89" lengthAdjust="spacingAndGlyphs">0</text>
<text x="31.70" y="216.89" class="tk" text-anchor="end" textLength="9.79" lengthAdjust="spacingAndGlyphs">10</text>
<text x="31.70" y="193.88" class="tk" text-anchor="end" textLength="9.79" lengthAdjust="spacingAndGlyphs">20</text>
<text x="31.70" y="170.87" class="tk" text-anchor="end" textLength="9.79" lengthAdjust="spacingAndGlyphs">30</text>
<text x="31.70" y="147.86" class="tk" text-anchor="end" textLength="9.79" lengthAdjust="spacingAndGlyphs">40</text>
<text x="31.70" y="124.85" class="tk" text-anchor="end" textLength="9.79" lengthAdjust="spacingAndGlyphs">50</text>
<text x="31.70" y="101.84" class="tk" text-anchor="end" textLength="9.79" lengthAdjust="spacingAndGlyphs">60</text>
<text x="31.70" y="78.83" class="tk" text-anchor="end" textLength="9.79" lengthAdjust="spacingAndGlyphs">70</text>
<text x="31.70" y="55.82" class="tk" text-anchor="end" textLength="9.79" lengthAdjust="spacingAndGlyphs">80</text>
<text x="31.70" y="32.81" class="tk" text-anchor="end" textLength="9.79" lengthAdjust="spacingAndGlyphs">90</text>
<text x="31.70" y="9.80" class="tk" text-anchor="end" textLength="14.68" lengthAdjust="spacingAndGlyphs">100</text>
<text x="131.40" y="260.50" class="ttl">Groove depth <tspan font-style="italic">h</tspan><tspan font-style="italic" font-size="8.5" dy="5.5">g</tspan><tspan dy="-5.5"> (</tspan><tspan font-style="italic">μ</tspan>m)</text>
<text transform="translate(8.70,157.80) rotate(-90)" class="ttl">Efficiency <tspan font-style="italic">η</tspan> (%)</text>
<text x="2.0" y="21.9" class="lab">(a)</text>
<rect x="165.4" y="67.8" width="102.6" height="52.6" fill="#fff" stroke="#6a6a6a" stroke-width="0.9"/>
<line x1="171.20000000000002" y1="75.5" x2="198.2" y2="75.5" stroke="#f2d0d5" stroke-width="1.8"/>
<line x1="171.20000000000002" y1="75.5" x2="198.2" y2="75.5" stroke="#e8b4bc" stroke-width="1.8" stroke-dasharray="5.5 1.6 1.6 1.6"/>
<text x="201.0" y="78.7" class="lg">0th (TE Modal)</text>
<line x1="171.20000000000002" y1="87.8" x2="198.2" y2="87.8" stroke="#d41010" stroke-width="3.3"/>
<text x="201.0" y="91.0" class="lg">-1st (TE Modal)</text>
<line x1="171.20000000000002" y1="100.6" x2="198.2" y2="100.6" stroke="#d4d4f0" stroke-width="1.8"/>
<line x1="171.20000000000002" y1="100.6" x2="198.2" y2="100.6" stroke="#b8b8e0" stroke-width="1.8" stroke-dasharray="5.5 1.6 1.6 1.6"/>
<text x="201.0" y="103.8" class="lg">0th (TE RCWA)</text>
<line x1="171.20000000000002" y1="113.1" x2="198.2" y2="113.1" stroke="#0606cc" stroke-width="3.3"/>
<text x="201.0" y="116.3" class="lg">-1st (TE RCWA)</text>
<line x1="425.90" y1="5.30" x2="425.90" y2="235.90" stroke="#c6c6c6" stroke-width="0.9" stroke-dasharray="5.5 2.3"/>
<line x1="474.60" y1="5.30" x2="474.60" y2="235.90" stroke="#c6c6c6" stroke-width="0.9" stroke-dasharray="5.5 2.3"/>
<line x1="523.30" y1="5.30" x2="523.30" y2="235.90" stroke="#c6c6c6" stroke-width="0.9" stroke-dasharray="5.5 2.3"/>
<line x1="572.00" y1="5.30" x2="572.00" y2="235.90" stroke="#c6c6c6" stroke-width="0.9" stroke-dasharray="5.5 2.3"/>
<line x1="620.70" y1="5.30" x2="620.70" y2="235.90" stroke="#c6c6c6" stroke-width="0.9" stroke-dasharray="5.5 2.3"/>
<line x1="377.20" y1="212.84" x2="669.40" y2="212.84" stroke="#aaaaaa" stroke-width="0.9" stroke-dasharray="5.5 2.3" stroke-dashoffset="-5"/>
<line x1="377.20" y1="189.78" x2="669.40" y2="189.78" stroke="#aaaaaa" stroke-width="0.9" stroke-dasharray="5.5 2.3" stroke-dashoffset="-5"/>
<line x1="377.20" y1="166.72" x2="669.40" y2="166.72" stroke="#aaaaaa" stroke-width="0.9" stroke-dasharray="5.5 2.3" stroke-dashoffset="-5"/>
<line x1="377.20" y1="143.66" x2="669.40" y2="143.66" stroke="#aaaaaa" stroke-width="0.9" stroke-dasharray="5.5 2.3" stroke-dashoffset="-5"/>
<line x1="377.20" y1="120.60" x2="669.40" y2="120.60" stroke="#aaaaaa" stroke-width="0.9" stroke-dasharray="5.5 2.3" stroke-dashoffset="-5"/>
<line x1="377.20" y1="97.54" x2="669.40" y2="97.54" stroke="#aaaaaa" stroke-width="0.9" stroke-dasharray="5.5 2.3" stroke-dashoffset="-5"/>
<line x1="377.20" y1="74.48" x2="669.40" y2="74.48" stroke="#aaaaaa" stroke-width="0.9" stroke-dasharray="5.5 2.3" stroke-dashoffset="-5"/>
<line x1="377.20" y1="51.42" x2="669.40" y2="51.42" stroke="#aaaaaa" stroke-width="0.9" stroke-dasharray="5.5 2.3" stroke-dashoffset="-5"/>
<line x1="377.20" y1="28.36" x2="669.40" y2="28.36" stroke="#aaaaaa" stroke-width="0.9" stroke-dasharray="5.5 2.3" stroke-dashoffset="-5"/>
<line x1="425.90" y1="235.90" x2="425.90" y2="232.70" stroke="#000" stroke-width="1.4"/>
<line x1="425.90" y1="5.30" x2="425.90" y2="8.50" stroke="#000" stroke-width="1.4"/>
<line x1="474.60" y1="235.90" x2="474.60" y2="232.70" stroke="#000" stroke-width="1.4"/>
<line x1="474.60" y1="5.30" x2="474.60" y2="8.50" stroke="#000" stroke-width="1.4"/>
<line x1="523.30" y1="235.90" x2="523.30" y2="232.70" stroke="#000" stroke-width="1.4"/>
<line x1="523.30" y1="5.30" x2="523.30" y2="8.50" stroke="#000" stroke-width="1.4"/>
<line x1="572.00" y1="235.90" x2="572.00" y2="232.70" stroke="#000" stroke-width="1.4"/>
<line x1="572.00" y1="5.30" x2="572.00" y2="8.50" stroke="#000" stroke-width="1.4"/>
<line x1="620.70" y1="235.90" x2="620.70" y2="232.70" stroke="#000" stroke-width="1.4"/>
<line x1="620.70" y1="5.30" x2="620.70" y2="8.50" stroke="#000" stroke-width="1.4"/>
<line x1="377.20" y1="212.84" x2="380.40" y2="212.84" stroke="#000" stroke-width="1.4"/>
<line x1="669.40" y1="212.84" x2="666.20" y2="212.84" stroke="#000" stroke-width="1.4"/>
<line x1="377.20" y1="189.78" x2="380.40" y2="189.78" stroke="#000" stroke-width="1.4"/>
<line x1="669.40" y1="189.78" x2="666.20" y2="189.78" stroke="#000" stroke-width="1.4"/>
<line x1="377.20" y1="166.72" x2="380.40" y2="166.72" stroke="#000" stroke-width="1.4"/>
<line x1="669.40" y1="166.72" x2="666.20" y2="166.72" stroke="#000" stroke-width="1.4"/>
<line x1="377.20" y1="143.66" x2="380.40" y2="143.66" stroke="#000" stroke-width="1.4"/>
<line x1="669.40" y1="143.66" x2="666.20" y2="143.66" stroke="#000" stroke-width="1.4"/>
<line x1="377.20" y1="120.60" x2="380.40" y2="120.60" stroke="#000" stroke-width="1.4"/>
<line x1="669.40" y1="120.60" x2="666.20" y2="120.60" stroke="#000" stroke-width="1.4"/>
<line x1="377.20" y1="97.54" x2="380.40" y2="97.54" stroke="#000" stroke-width="1.4"/>
<line x1="669.40" y1="97.54" x2="666.20" y2="97.54" stroke="#000" stroke-width="1.4"/>
<line x1="377.20" y1="74.48" x2="380.40" y2="74.48" stroke="#000" stroke-width="1.4"/>
<line x1="669.40" y1="74.48" x2="666.20" y2="74.48" stroke="#000" stroke-width="1.4"/>
<line x1="377.20" y1="51.42" x2="380.40" y2="51.42" stroke="#000" stroke-width="1.4"/>
<line x1="669.40" y1="51.42" x2="666.20" y2="51.42" stroke="#000" stroke-width="1.4"/>
<line x1="377.20" y1="28.36" x2="380.40" y2="28.36" stroke="#000" stroke-width="1.4"/>
<line x1="669.40" y1="28.36" x2="666.20" y2="28.36" stroke="#000" stroke-width="1.4"/>
<g clip-path="url(#cb)">
<g style="mix-blend-mode:multiply"><path d="M377.50,3.79 L378.50,3.81 L379.50,3.86 L380.50,3.96 L381.50,4.10 L382.50,4.29 L383.50,4.51 L384.50,4.77 L385.50,5.08 L386.50,5.42 L387.50,5.81 L388.50,6.23 L389.50,6.69 L390.50,7.18 L391.50,7.72 L392.50,8.29 L393.50,8.90 L394.50,9.54 L395.50,10.22 L396.50,10.93 L397.50,11.68 L398.50,12.46 L399.50,13.28 L400.50,14.12 L401.50,15.00 L402.50,15.91 L403.50,16.86 L404.50,17.83 L405.50,18.84 L406.50,19.87 L407.50,20.93 L408.50,22.02 L409.50,23.14 L410.50,24.29 L411.50,25.47 L412.50,26.67 L413.50,27.90 L414.50,29.16 L415.50,30.44 L416.50,31.74 L417.50,33.07 L418.50,34.43 L419.50,35.80 L420.50,37.20 L421.50,38.63 L422.50,40.07 L423.50,41.54 L424.50,43.03 L425.50,44.54 L426.50,46.07 L427.50,47.61 L428.50,49.18 L429.50,50.77 L430.50,52.37 L431.50,53.99 L432.50,55.63 L433.50,57.29 L434.50,58.96 L435.50,60.65 L436.50,62.35 L437.50,64.07 L438.50,65.80 L439.50,67.55 L440.50,69.31 L441.50,71.08 L442.50,72.87 L443.50,74.66 L444.50,76.47 L445.50,78.29 L446.50,80.12 L447.50,81.96 L448.50,83.80 L449.50,85.66 L450.50,87.53 L451.50,89.40 L452.50,91.28 L453.50,93.17 L454.50,95.07 L455.50,96.97 L456.50,98.87 L457.50,100.78 L458.50,102.70 L459.50,104.62 L460.50,106.54 L461.50,108.47 L462.50,110.40 L463.50,112.33 L464.50,114.26 L465.50,116.20 L466.50,118.13 L467.50,120.07 L468.50,122.00 L469.50,123.93 L470.50,125.87 L471.50,127.80 L472.50,129.73 L473.50,131.65 L474.50,133.57 L475.50,135.49 L476.50,137.41 L477.50,139.32 L478.50,141.22 L479.50,143.12 L480.50,145.01 L481.50,146.90 L482.50,148.78 L483.50,150.65 L484.50,152.51 L485.50,154.37 L486.50,156.21 L487.50,158.05 L488.50,159.88 L489.50,161.69 L490.50,163.50 L491.50,165.29 L492.50,167.07 L493.50,168.84 L494.50,170.59 L495.50,172.34 L496.50,174.06 L497.50,175.78 L498.50,177.48 L499.50,179.16 L500.50,180.83 L501.50,182.48 L502.50,184.11 L503.50,185.73 L504.50,187.33 L505.50,188.91 L506.50,190.47 L507.50,192.01 L508.50,193.54 L509.50,195.04 L510.50,196.52 L511.50,197.98 L512.50,199.42 L513.50,200.84 L514.50,202.23 L515.50,203.60 L516.50,204.95 L517.50,206.27 L518.50,207.57 L519.50,208.84 L520.50,210.09 L521.50,211.31 L522.50,212.51 L523.50,213.67 L524.50,214.81 L525.50,215.93 L526.50,217.01 L527.50,218.06 L528.50,219.09 L529.50,220.08 L530.50,221.05 L531.50,221.98 L532.50,222.88 L533.50,223.75 L534.50,224.59 L535.50,225.39 L536.50,226.17 L537.50,226.90 L538.50,227.61 L539.50,228.28 L540.50,228.92 L541.50,229.52 L542.50,230.09 L543.50,230.63 L544.50,231.14 L545.50,231.61 L546.50,232.05 L547.50,232.46 L548.50,232.83 L549.50,233.18 L550.50,233.49 L551.50,233.77 L552.50,234.01 L553.50,234.23 L554.50,234.41 L555.50,234.57 L556.50,234.69 L557.50,234.78 L558.50,234.83 L559.50,234.86 L560.50,234.86 L561.50,234.82 L562.50,234.76 L563.50,234.66 L564.50,234.53 L565.50,234.38 L566.50,234.19 L567.50,233.97 L568.50,233.72 L569.50,233.45 L570.50,233.14 L571.50,232.80 L572.50,232.43 L573.50,232.04 L574.50,231.61 L575.50,231.16 L576.50,230.67 L577.50,230.16 L578.50,229.62 L579.50,229.05 L580.50,228.45 L581.50,227.82 L582.50,227.16 L583.50,226.47 L584.50,225.76 L585.50,225.02 L586.50,224.25 L587.50,223.45 L588.50,222.63 L589.50,221.77 L590.50,220.89 L591.50,219.98 L592.50,219.05 L593.50,218.08 L594.50,217.09 L595.50,216.08 L596.50,215.03 L597.50,213.96 L598.50,212.86 L599.50,211.74 L600.50,210.59 L601.50,209.41 L602.50,208.21 L603.50,206.98 L604.50,205.72 L605.50,204.44 L606.50,203.13 L607.50,201.80 L608.50,200.44 L609.50,199.06 L610.50,197.65 L611.50,196.22 L612.50,194.76 L613.50,193.27 L614.50,191.76 L615.50,190.23 L616.50,188.68 L617.50,187.10 L618.50,185.50 L619.50,183.88 L620.50,182.23 L621.50,180.57 L622.50,178.88 L623.50,177.18 L624.50,175.45 L625.50,173.70 L626.50,171.94 L627.50,170.16 L628.50,168.35 L629.50,166.54 L630.50,164.70 L631.50,162.84 L632.50,160.97 L633.50,159.09 L634.50,157.18 L635.50,155.27 L636.50,153.33 L637.50,151.39 L638.50,149.42 L639.50,147.45 L640.50,145.46 L641.50,143.46 L642.50,141.45 L643.50,139.42 L644.50,137.38 L645.50,135.33 L646.50,133.28 L647.50,131.21 L648.50,129.13 L649.50,127.04 L650.50,124.94 L651.50,122.83 L652.50,120.72 L653.50,118.59 L654.50,116.46 L655.50,114.33 L656.50,112.18 L657.50,110.03 L658.50,107.88 L659.50,105.72 L660.50,103.55 L661.50,101.38 L662.50,99.20 L663.50,97.03 L664.50,94.85 L665.50,92.66 L666.50,90.47 L667.50,88.29 L668.50,86.10 L669.40,84.12" fill="none" stroke="#ebb2bb" stroke-width="2.1"/>
<path d="M377.50,3.79 L378.50,3.81 L379.50,3.86 L380.50,3.96 L381.50,4.10 L382.50,4.29 L383.50,4.51 L384.50,4.77 L385.50,5.08 L386.50,5.42 L387.50,5.81 L388.50,6.23 L389.50,6.69 L390.50,7.18 L391.50,7.72 L392.50,8.29 L393.50,8.90 L394.50,9.54 L395.50,10.22 L396.50,10.93 L397.50,11.68 L398.50,12.46 L399.50,13.28 L400.50,14.12 L401.50,15.00 L402.50,15.91 L403.50,16.86 L404.50,17.83 L405.50,18.84 L406.50,19.87 L407.50,20.93 L408.50,22.02 L409.50,23.14 L410.50,24.29 L411.50,25.47 L412.50,26.67 L413.50,27.90 L414.50,29.16 L415.50,30.44 L416.50,31.74 L417.50,33.07 L418.50,34.43 L419.50,35.80 L420.50,37.20 L421.50,38.63 L422.50,40.07 L423.50,41.54 L424.50,43.03 L425.50,44.54 L426.50,46.07 L427.50,47.61 L428.50,49.18 L429.50,50.77 L430.50,52.37 L431.50,53.99 L432.50,55.63 L433.50,57.29 L434.50,58.96 L435.50,60.65 L436.50,62.35 L437.50,64.07 L438.50,65.80 L439.50,67.55 L440.50,69.31 L441.50,71.08 L442.50,72.87 L443.50,74.66 L444.50,76.47 L445.50,78.29 L446.50,80.12 L447.50,81.96 L448.50,83.80 L449.50,85.66 L450.50,87.53 L451.50,89.40 L452.50,91.28 L453.50,93.17 L454.50,95.07 L455.50,96.97 L456.50,98.87 L457.50,100.78 L458.50,102.70 L459.50,104.62 L460.50,106.54 L461.50,108.47 L462.50,110.40 L463.50,112.33 L464.50,114.26 L465.50,116.20 L466.50,118.13 L467.50,120.07 L468.50,122.00 L469.50,123.93 L470.50,125.87 L471.50,127.80 L472.50,129.73 L473.50,131.65 L474.50,133.57 L475.50,135.49 L476.50,137.41 L477.50,139.32 L478.50,141.22 L479.50,143.12 L480.50,145.01 L481.50,146.90 L482.50,148.78 L483.50,150.65 L484.50,152.51 L485.50,154.37 L486.50,156.21 L487.50,158.05 L488.50,159.88 L489.50,161.69 L490.50,163.50 L491.50,165.29 L492.50,167.07 L493.50,168.84 L494.50,170.59 L495.50,172.34 L496.50,174.06 L497.50,175.78 L498.50,177.48 L499.50,179.16 L500.50,180.83 L501.50,182.48 L502.50,184.11 L503.50,185.73 L504.50,187.33 L505.50,188.91 L506.50,190.47 L507.50,192.01 L508.50,193.54 L509.50,195.04 L510.50,196.52 L511.50,197.98 L512.50,199.42 L513.50,200.84 L514.50,202.23 L515.50,203.60 L516.50,204.95 L517.50,206.27 L518.50,207.57 L519.50,208.84 L520.50,210.09 L521.50,211.31 L522.50,212.51 L523.50,213.67 L524.50,214.81 L525.50,215.93 L526.50,217.01 L527.50,218.06 L528.50,219.09 L529.50,220.08 L530.50,221.05 L531.50,221.98 L532.50,222.88 L533.50,223.75 L534.50,224.59 L535.50,225.39 L536.50,226.17 L537.50,226.90 L538.50,227.61 L539.50,228.28 L540.50,228.92 L541.50,229.52 L542.50,230.09 L543.50,230.63 L544.50,231.14 L545.50,231.61 L546.50,232.05 L547.50,232.46 L548.50,232.83 L549.50,233.18 L550.50,233.49 L551.50,233.77 L552.50,234.01 L553.50,234.23 L554.50,234.41 L555.50,234.57 L556.50,234.69 L557.50,234.78 L558.50,234.83 L559.50,234.86 L560.50,234.86 L561.50,234.82 L562.50,234.76 L563.50,234.66 L564.50,234.53 L565.50,234.38 L566.50,234.19 L567.50,233.97 L568.50,233.72 L569.50,233.45 L570.50,233.14 L571.50,232.80 L572.50,232.43 L573.50,232.04 L574.50,231.61 L575.50,231.16 L576.50,230.67 L577.50,230.16 L578.50,229.62 L579.50,229.05 L580.50,228.45 L581.50,227.82 L582.50,227.16 L583.50,226.47 L584.50,225.76 L585.50,225.02 L586.50,224.25 L587.50,223.45 L588.50,222.63 L589.50,221.77 L590.50,220.89 L591.50,219.98 L592.50,219.05 L593.50,218.08 L594.50,217.09 L595.50,216.08 L596.50,215.03 L597.50,213.96 L598.50,212.86 L599.50,211.74 L600.50,210.59 L601.50,209.41 L602.50,208.21 L603.50,206.98 L604.50,205.72 L605.50,204.44 L606.50,203.13 L607.50,201.80 L608.50,200.44 L609.50,199.06 L610.50,197.65 L611.50,196.22 L612.50,194.76 L613.50,193.27 L614.50,191.76 L615.50,190.23 L616.50,188.68 L617.50,187.10 L618.50,185.50 L619.50,183.88 L620.50,182.23 L621.50,180.57 L622.50,178.88 L623.50,177.18 L624.50,175.45 L625.50,173.70 L626.50,171.94 L627.50,170.16 L628.50,168.35 L629.50,166.54 L630.50,164.70 L631.50,162.84 L632.50,160.97 L633.50,159.09 L634.50,157.18 L635.50,155.27 L636.50,153.33 L637.50,151.39 L638.50,149.42 L639.50,147.45 L640.50,145.46 L641.50,143.46 L642.50,141.45 L643.50,139.42 L644.50,137.38 L645.50,135.33 L646.50,133.28 L647.50,131.21 L648.50,129.13 L649.50,127.04 L650.50,124.94 L651.50,122.83 L652.50,120.72 L653.50,118.59 L654.50,116.46 L655.50,114.33 L656.50,112.18 L657.50,110.03 L658.50,107.88 L659.50,105.72 L660.50,103.55 L661.50,101.38 L662.50,99.20 L663.50,97.03 L664.50,94.85 L665.50,92.66 L666.50,90.47 L667.50,88.29 L668.50,86.10 L669.40,84.12" fill="none" stroke="#de98a4" stroke-width="2.1" stroke-dasharray="5.5 1.6 1.6 1.6"/></g>
<path d="M377.20,235.44 L378.20,235.47 L379.20,235.45 L380.20,235.39 L381.20,235.28 L382.20,235.14 L383.20,234.95 L384.20,234.72 L385.20,234.45 L386.20,234.14 L387.20,233.79 L388.20,233.40 L389.20,232.97 L390.20,232.51 L391.20,232.00 L392.20,231.46 L393.20,230.89 L394.20,230.27 L395.20,229.63 L396.20,228.94 L397.20,228.22 L398.20,227.47 L399.20,226.69 L400.20,225.87 L401.20,225.01 L402.20,224.13 L403.20,223.21 L404.20,222.26 L405.20,221.29 L406.20,220.28 L407.20,219.24 L408.20,218.17 L409.20,217.08 L410.20,215.95 L411.20,214.80 L412.20,213.62 L413.20,212.41 L414.20,211.18 L415.20,209.92 L416.20,208.63 L417.20,207.33 L418.20,205.99 L419.20,204.63 L420.20,203.25 L421.20,201.85 L422.20,200.42 L423.20,198.97 L424.20,197.50 L425.20,196.01 L426.20,194.50 L427.20,192.97 L428.20,191.42 L429.20,189.85 L430.20,188.26 L431.20,186.66 L432.20,185.03 L433.20,183.39 L434.20,181.73 L435.20,180.06 L436.20,178.37 L437.20,176.67 L438.20,174.95 L439.20,173.22 L440.20,171.47 L441.20,169.71 L442.20,167.94 L443.20,166.15 L444.20,164.36 L445.20,162.55 L446.20,160.73 L447.20,158.90 L448.20,157.07 L449.20,155.22 L450.20,153.36 L451.20,151.50 L452.20,149.63 L453.20,147.75 L454.20,145.86 L455.20,143.97 L456.20,142.07 L457.20,140.17 L458.20,138.26 L459.20,136.35 L460.20,134.43 L461.20,132.51 L462.20,130.59 L463.20,128.67 L464.20,126.74 L465.20,124.81 L466.20,122.88 L467.20,120.95 L468.20,119.03 L469.20,117.10 L470.20,115.17 L471.20,113.24 L472.20,111.32 L473.20,109.40 L474.20,107.48 L475.20,105.57 L476.20,103.66 L477.20,101.75 L478.20,99.85 L479.20,97.95 L480.20,96.06 L481.20,94.18 L482.20,92.30 L483.20,90.44 L484.20,88.57 L485.20,86.72 L486.20,84.88 L487.20,83.04 L488.20,81.22 L489.20,79.41 L490.20,77.60 L491.20,75.81 L492.20,74.03 L493.20,72.27 L494.20,70.51 L495.20,68.77 L496.20,67.04 L497.20,65.33 L498.20,63.63 L499.20,61.95 L500.20,60.28 L501.20,58.63 L502.20,57.00 L503.20,55.38 L504.20,53.78 L505.20,52.20 L506.20,50.64 L507.20,49.09 L508.20,47.57 L509.20,46.07 L510.20,44.58 L511.20,43.12 L512.20,41.68 L513.20,40.27 L514.20,38.87 L515.20,37.50 L516.20,36.15 L517.20,34.83 L518.20,33.53 L519.20,32.25 L520.20,31.00 L521.20,29.78 L522.20,28.59 L523.20,27.42 L524.20,26.27 L525.20,25.16 L526.20,24.08 L527.20,23.02 L528.20,21.99 L529.20,21.00 L530.20,20.03 L531.20,19.09 L532.20,18.19 L533.20,17.32 L534.20,16.48 L535.20,15.67 L536.20,14.90 L537.20,14.16 L538.20,13.45 L539.20,12.78 L540.20,12.14 L541.20,11.53 L542.20,10.95 L543.20,10.41 L544.20,9.90 L545.20,9.42 L546.20,8.98 L547.20,8.56 L548.20,8.18 L549.20,7.83 L550.20,7.51 L551.20,7.23 L552.20,6.97 L553.20,6.75 L554.20,6.56 L555.20,6.40 L556.20,6.27 L557.20,6.17 L558.20,6.10 L559.20,6.07 L560.20,6.06 L561.20,6.09 L562.20,6.14 L563.20,6.23 L564.20,6.35 L565.20,6.49 L566.20,6.67 L567.20,6.88 L568.20,7.11 L569.20,7.38 L570.20,7.68 L571.20,8.01 L572.20,8.36 L573.20,8.75 L574.20,9.16 L575.20,9.61 L576.20,10.08 L577.20,10.58 L578.20,11.11 L579.20,11.67 L580.20,12.26 L581.20,12.88 L582.20,13.52 L583.20,14.20 L584.20,14.90 L585.20,15.63 L586.20,16.39 L587.20,17.18 L588.20,17.99 L589.20,18.83 L590.20,19.70 L591.20,20.60 L592.20,21.53 L593.20,22.48 L594.20,23.46 L595.20,24.47 L596.20,25.50 L597.20,26.56 L598.20,27.65 L599.20,28.76 L600.20,29.91 L601.20,31.07 L602.20,32.27 L603.20,33.49 L604.20,34.73 L605.20,36.01 L606.20,37.31 L607.20,38.63 L608.20,39.98 L609.20,41.36 L610.20,42.76 L611.20,44.18 L612.20,45.63 L613.20,47.10 L614.20,48.60 L615.20,50.11 L616.20,51.65 L617.20,53.22 L618.20,54.80 L619.20,56.40 L620.20,58.03 L621.20,59.68 L622.20,61.34 L623.20,63.03 L624.20,64.74 L625.20,66.46 L626.20,68.20 L627.20,69.97 L628.20,71.75 L629.20,73.54 L630.20,75.36 L631.20,77.19 L632.20,79.03 L633.20,80.90 L634.20,82.78 L635.20,84.67 L636.20,86.58 L637.20,88.50 L638.20,90.44 L639.20,92.39 L640.20,94.35 L641.20,96.33 L642.20,98.32 L643.20,100.32 L644.20,102.33 L645.20,104.36 L646.20,106.39 L647.20,108.44 L648.20,110.50 L649.20,112.56 L650.20,114.64 L651.20,116.72 L652.20,118.82 L653.20,120.92 L654.20,123.03 L655.20,125.15 L656.20,127.27 L657.20,129.40 L658.20,131.54 L659.20,133.68 L660.20,135.83 L661.20,137.99 L662.20,140.15 L663.20,142.31 L664.20,144.48 L665.20,146.65 L666.20,148.83 L667.20,151.00 L668.20,153.18 L669.20,155.37 L669.40,155.80" fill="none" stroke="#dd1010" stroke-width="3.0" stroke-linejoin="round"/>
<g style="mix-blend-mode:multiply"><path d="M377.50,11.43 L378.50,11.31 L379.50,11.24 L380.50,11.21 L381.50,11.22 L382.50,11.28 L383.50,11.38 L384.50,11.52 L385.50,11.70 L386.50,11.92 L387.50,12.18 L388.50,12.49 L389.50,12.83 L390.50,13.21 L391.50,13.63 L392.50,14.09 L393.50,14.58 L394.50,15.11 L395.50,15.68 L396.50,16.29 L397.50,16.93 L398.50,17.60 L399.50,18.31 L400.50,19.05 L401.50,19.83 L402.50,20.64 L403.50,21.48 L404.50,22.36 L405.50,23.26 L406.50,24.20 L407.50,25.17 L408.50,26.16 L409.50,27.19 L410.50,28.25 L411.50,29.33 L412.50,30.44 L413.50,31.58 L414.50,32.75 L415.50,33.95 L416.50,35.17 L417.50,36.41 L418.50,37.68 L419.50,38.98 L420.50,40.30 L421.50,41.64 L422.50,43.01 L423.50,44.40 L424.50,45.81 L425.50,47.24 L426.50,48.70 L427.50,50.17 L428.50,51.67 L429.50,53.18 L430.50,54.72 L431.50,56.27 L432.50,57.84 L433.50,59.43 L434.50,61.04 L435.50,62.66 L436.50,64.30 L437.50,65.95 L438.50,67.62 L439.50,69.31 L440.50,71.01 L441.50,72.72 L442.50,74.45 L443.50,76.19 L444.50,77.94 L445.50,79.71 L446.50,81.48 L447.50,83.27 L448.50,85.06 L449.50,86.87 L450.50,88.68 L451.50,90.51 L452.50,92.34 L453.50,94.18 L454.50,96.03 L455.50,97.89 L456.50,99.75 L457.50,101.62 L458.50,103.49 L459.50,105.37 L460.50,107.25 L461.50,109.14 L462.50,111.03 L463.50,112.92 L464.50,114.82 L465.50,116.71 L466.50,118.61 L467.50,120.51 L468.50,122.41 L469.50,124.31 L470.50,126.22 L471.50,128.11 L472.50,130.01 L473.50,131.91 L474.50,133.80 L475.50,135.69 L476.50,137.58 L477.50,139.46 L478.50,141.34 L479.50,143.22 L480.50,145.09 L481.50,146.95 L482.50,148.81 L483.50,150.66 L484.50,152.50 L485.50,154.33 L486.50,156.16 L487.50,157.98 L488.50,159.79 L489.50,161.58 L490.50,163.37 L491.50,165.15 L492.50,166.92 L493.50,168.67 L494.50,170.41 L495.50,172.14 L496.50,173.86 L497.50,175.56 L498.50,177.25 L499.50,178.92 L500.50,180.58 L501.50,182.22 L502.50,183.85 L503.50,185.46 L504.50,187.05 L505.50,188.63 L506.50,190.19 L507.50,191.72 L508.50,193.24 L509.50,194.74 L510.50,196.22 L511.50,197.68 L512.50,199.12 L513.50,200.53 L514.50,201.93 L515.50,203.30 L516.50,204.65 L517.50,205.97 L518.50,207.27 L519.50,208.55 L520.50,209.80 L521.50,211.03 L522.50,212.23 L523.50,213.40 L524.50,214.54 L525.50,215.66 L526.50,216.75 L527.50,217.82 L528.50,218.85 L529.50,219.85 L530.50,220.83 L531.50,221.77 L532.50,222.68 L533.50,223.56 L534.50,224.41 L535.50,225.23 L536.50,226.01 L537.50,226.76 L538.50,227.48 L539.50,228.16 L540.50,228.82 L541.50,229.44 L542.50,230.02 L543.50,230.58 L544.50,231.10 L545.50,231.59 L546.50,232.04 L547.50,232.47 L548.50,232.86 L549.50,233.22 L550.50,233.55 L551.50,233.84 L552.50,234.11 L553.50,234.34 L554.50,234.54 L555.50,234.71 L556.50,234.85 L557.50,234.95 L558.50,235.03 L559.50,235.07 L560.50,235.08 L561.50,235.07 L562.50,235.02 L563.50,234.94 L564.50,234.83 L565.50,234.68 L566.50,234.51 L567.50,234.31 L568.50,234.08 L569.50,233.81 L570.50,233.52 L571.50,233.19 L572.50,232.84 L573.50,232.46 L574.50,232.04 L575.50,231.60 L576.50,231.13 L577.50,230.62 L578.50,230.09 L579.50,229.53 L580.50,228.93 L581.50,228.31 L582.50,227.66 L583.50,226.98 L584.50,226.28 L585.50,225.54 L586.50,224.77 L587.50,223.98 L588.50,223.15 L589.50,222.30 L590.50,221.42 L591.50,220.51 L592.50,219.57 L593.50,218.60 L594.50,217.61 L595.50,216.59 L596.50,215.54 L597.50,214.46 L598.50,213.35 L599.50,212.22 L600.50,211.06 L601.50,209.87 L602.50,208.65 L603.50,207.40 L604.50,206.13 L605.50,204.83 L606.50,203.51 L607.50,202.15 L608.50,200.77 L609.50,199.37 L610.50,197.93 L611.50,196.47 L612.50,194.99 L613.50,193.47 L614.50,191.93 L615.50,190.37 L616.50,188.79 L617.50,187.18 L618.50,185.55 L619.50,183.89 L620.50,182.22 L621.50,180.52 L622.50,178.81 L623.50,177.08 L624.50,175.32 L625.50,173.55 L626.50,171.77 L627.50,169.96 L628.50,168.14 L629.50,166.31 L630.50,164.46 L631.50,162.60 L632.50,160.72 L633.50,158.83 L634.50,156.93 L635.50,155.02 L636.50,153.10 L637.50,151.17 L638.50,149.23 L639.50,147.28 L640.50,145.32 L641.50,143.35 L642.50,141.38 L643.50,139.41 L644.50,137.42 L645.50,135.44 L646.50,133.44 L647.50,131.45 L648.50,129.45 L649.50,127.45 L650.50,125.45 L651.50,123.45 L652.50,121.45 L653.50,119.45 L654.50,117.45 L655.50,115.46 L656.50,113.46 L657.50,111.47 L658.50,109.48 L659.50,107.50 L660.50,105.52 L661.50,103.55 L662.50,101.59 L663.50,99.63 L664.50,97.68 L665.50,95.74 L666.50,93.81 L667.50,91.89 L668.50,89.98 L669.40,88.27" fill="none" stroke="#babae8" stroke-width="2.1"/>
<path d="M377.50,11.43 L378.50,11.31 L379.50,11.24 L380.50,11.21 L381.50,11.22 L382.50,11.28 L383.50,11.38 L384.50,11.52 L385.50,11.70 L386.50,11.92 L387.50,12.18 L388.50,12.49 L389.50,12.83 L390.50,13.21 L391.50,13.63 L392.50,14.09 L393.50,14.58 L394.50,15.11 L395.50,15.68 L396.50,16.29 L397.50,16.93 L398.50,17.60 L399.50,18.31 L400.50,19.05 L401.50,19.83 L402.50,20.64 L403.50,21.48 L404.50,22.36 L405.50,23.26 L406.50,24.20 L407.50,25.17 L408.50,26.16 L409.50,27.19 L410.50,28.25 L411.50,29.33 L412.50,30.44 L413.50,31.58 L414.50,32.75 L415.50,33.95 L416.50,35.17 L417.50,36.41 L418.50,37.68 L419.50,38.98 L420.50,40.30 L421.50,41.64 L422.50,43.01 L423.50,44.40 L424.50,45.81 L425.50,47.24 L426.50,48.70 L427.50,50.17 L428.50,51.67 L429.50,53.18 L430.50,54.72 L431.50,56.27 L432.50,57.84 L433.50,59.43 L434.50,61.04 L435.50,62.66 L436.50,64.30 L437.50,65.95 L438.50,67.62 L439.50,69.31 L440.50,71.01 L441.50,72.72 L442.50,74.45 L443.50,76.19 L444.50,77.94 L445.50,79.71 L446.50,81.48 L447.50,83.27 L448.50,85.06 L449.50,86.87 L450.50,88.68 L451.50,90.51 L452.50,92.34 L453.50,94.18 L454.50,96.03 L455.50,97.89 L456.50,99.75 L457.50,101.62 L458.50,103.49 L459.50,105.37 L460.50,107.25 L461.50,109.14 L462.50,111.03 L463.50,112.92 L464.50,114.82 L465.50,116.71 L466.50,118.61 L467.50,120.51 L468.50,122.41 L469.50,124.31 L470.50,126.22 L471.50,128.11 L472.50,130.01 L473.50,131.91 L474.50,133.80 L475.50,135.69 L476.50,137.58 L477.50,139.46 L478.50,141.34 L479.50,143.22 L480.50,145.09 L481.50,146.95 L482.50,148.81 L483.50,150.66 L484.50,152.50 L485.50,154.33 L486.50,156.16 L487.50,157.98 L488.50,159.79 L489.50,161.58 L490.50,163.37 L491.50,165.15 L492.50,166.92 L493.50,168.67 L494.50,170.41 L495.50,172.14 L496.50,173.86 L497.50,175.56 L498.50,177.25 L499.50,178.92 L500.50,180.58 L501.50,182.22 L502.50,183.85 L503.50,185.46 L504.50,187.05 L505.50,188.63 L506.50,190.19 L507.50,191.72 L508.50,193.24 L509.50,194.74 L510.50,196.22 L511.50,197.68 L512.50,199.12 L513.50,200.53 L514.50,201.93 L515.50,203.30 L516.50,204.65 L517.50,205.97 L518.50,207.27 L519.50,208.55 L520.50,209.80 L521.50,211.03 L522.50,212.23 L523.50,213.40 L524.50,214.54 L525.50,215.66 L526.50,216.75 L527.50,217.82 L528.50,218.85 L529.50,219.85 L530.50,220.83 L531.50,221.77 L532.50,222.68 L533.50,223.56 L534.50,224.41 L535.50,225.23 L536.50,226.01 L537.50,226.76 L538.50,227.48 L539.50,228.16 L540.50,228.82 L541.50,229.44 L542.50,230.02 L543.50,230.58 L544.50,231.10 L545.50,231.59 L546.50,232.04 L547.50,232.47 L548.50,232.86 L549.50,233.22 L550.50,233.55 L551.50,233.84 L552.50,234.11 L553.50,234.34 L554.50,234.54 L555.50,234.71 L556.50,234.85 L557.50,234.95 L558.50,235.03 L559.50,235.07 L560.50,235.08 L561.50,235.07 L562.50,235.02 L563.50,234.94 L564.50,234.83 L565.50,234.68 L566.50,234.51 L567.50,234.31 L568.50,234.08 L569.50,233.81 L570.50,233.52 L571.50,233.19 L572.50,232.84 L573.50,232.46 L574.50,232.04 L575.50,231.60 L576.50,231.13 L577.50,230.62 L578.50,230.09 L579.50,229.53 L580.50,228.93 L581.50,228.31 L582.50,227.66 L583.50,226.98 L584.50,226.28 L585.50,225.54 L586.50,224.77 L587.50,223.98 L588.50,223.15 L589.50,222.30 L590.50,221.42 L591.50,220.51 L592.50,219.57 L593.50,218.60 L594.50,217.61 L595.50,216.59 L596.50,215.54 L597.50,214.46 L598.50,213.35 L599.50,212.22 L600.50,211.06 L601.50,209.87 L602.50,208.65 L603.50,207.40 L604.50,206.13 L605.50,204.83 L606.50,203.51 L607.50,202.15 L608.50,200.77 L609.50,199.37 L610.50,197.93 L611.50,196.47 L612.50,194.99 L613.50,193.47 L614.50,191.93 L615.50,190.37 L616.50,188.79 L617.50,187.18 L618.50,185.55 L619.50,183.89 L620.50,182.22 L621.50,180.52 L622.50,178.81 L623.50,177.08 L624.50,175.32 L625.50,173.55 L626.50,171.77 L627.50,169.96 L628.50,168.14 L629.50,166.31 L630.50,164.46 L631.50,162.60 L632.50,160.72 L633.50,158.83 L634.50,156.93 L635.50,155.02 L636.50,153.10 L637.50,151.17 L638.50,149.23 L639.50,147.28 L640.50,145.32 L641.50,143.35 L642.50,141.38 L643.50,139.41 L644.50,137.42 L645.50,135.44 L646.50,133.44 L647.50,131.45 L648.50,129.45 L649.50,127.45 L650.50,125.45 L651.50,123.45 L652.50,121.45 L653.50,119.45 L654.50,117.45 L655.50,115.46 L656.50,113.46 L657.50,111.47 L658.50,109.48 L659.50,107.50 L660.50,105.52 L661.50,103.55 L662.50,101.59 L663.50,99.63 L664.50,97.68 L665.50,95.74 L666.50,93.81 L667.50,91.89 L668.50,89.98 L669.40,88.27" fill="none" stroke="#9c9cd6" stroke-width="2.1" stroke-dasharray="5.5 1.6 1.6 1.6"/></g>
<path d="M377.20,236.76 L378.20,236.70 L379.20,236.60 L380.20,236.45 L381.20,236.27 L382.20,236.05 L383.20,235.79 L384.20,235.49 L385.20,235.15 L386.20,234.78 L387.20,234.36 L388.20,233.92 L389.20,233.43 L390.20,232.91 L391.20,232.35 L392.20,231.76 L393.20,231.14 L394.20,230.48 L395.20,229.79 L396.20,229.06 L397.20,228.30 L398.20,227.51 L399.20,226.69 L400.20,225.84 L401.20,224.96 L402.20,224.05 L403.20,223.10 L404.20,222.13 L405.20,221.13 L406.20,220.10 L407.20,219.04 L408.20,217.96 L409.20,216.85 L410.20,215.71 L411.20,214.55 L412.20,213.36 L413.20,212.15 L414.20,210.91 L415.20,209.65 L416.20,208.36 L417.20,207.05 L418.20,205.72 L419.20,204.36 L420.20,202.99 L421.20,201.59 L422.20,200.17 L423.20,198.73 L424.20,197.27 L425.20,195.80 L426.20,194.30 L427.20,192.78 L428.20,191.25 L429.20,189.70 L430.20,188.13 L431.20,186.54 L432.20,184.94 L433.20,183.32 L434.20,181.69 L435.20,180.04 L436.20,178.38 L437.20,176.71 L438.20,175.02 L439.20,173.31 L440.20,171.60 L441.20,169.87 L442.20,168.13 L443.20,166.39 L444.20,164.62 L445.20,162.85 L446.20,161.07 L447.20,159.28 L448.20,157.49 L449.20,155.68 L450.20,153.87 L451.20,152.04 L452.20,150.21 L453.20,148.38 L454.20,146.54 L455.20,144.69 L456.20,142.84 L457.20,140.98 L458.20,139.12 L459.20,137.26 L460.20,135.39 L461.20,133.52 L462.20,131.64 L463.20,129.77 L464.20,127.89 L465.20,126.01 L466.20,124.14 L467.20,122.26 L468.20,120.38 L469.20,118.51 L470.20,116.63 L471.20,114.76 L472.20,112.89 L473.20,111.02 L474.20,109.15 L475.20,107.29 L476.20,105.43 L477.20,103.58 L478.20,101.73 L479.20,99.89 L480.20,98.06 L481.20,96.23 L482.20,94.41 L483.20,92.59 L484.20,90.78 L485.20,88.98 L486.20,87.19 L487.20,85.41 L488.20,83.64 L489.20,81.88 L490.20,80.13 L491.20,78.39 L492.20,76.66 L493.20,74.95 L494.20,73.25 L495.20,71.56 L496.20,69.88 L497.20,68.22 L498.20,66.57 L499.20,64.93 L500.20,63.32 L501.20,61.71 L502.20,60.13 L503.20,58.56 L504.20,57.01 L505.20,55.47 L506.20,53.95 L507.20,52.46 L508.20,50.98 L509.20,49.52 L510.20,48.08 L511.20,46.66 L512.20,45.26 L513.20,43.88 L514.20,42.52 L515.20,41.19 L516.20,39.88 L517.20,38.59 L518.20,37.33 L519.20,36.09 L520.20,34.87 L521.20,33.68 L522.20,32.52 L523.20,31.38 L524.20,30.27 L525.20,29.18 L526.20,28.12 L527.20,27.09 L528.20,26.09 L529.20,25.12 L530.20,24.17 L531.20,23.26 L532.20,22.37 L533.20,21.52 L534.20,20.70 L535.20,19.91 L536.20,19.15 L537.20,18.42 L538.20,17.72 L539.20,17.06 L540.20,16.43 L541.20,15.83 L542.20,15.26 L543.20,14.73 L544.20,14.23 L545.20,13.75 L546.20,13.31 L547.20,12.90 L548.20,12.53 L549.20,12.18 L550.20,11.86 L551.20,11.58 L552.20,11.33 L553.20,11.10 L554.20,10.91 L555.20,10.75 L556.20,10.62 L557.20,10.52 L558.20,10.45 L559.20,10.41 L560.20,10.40 L561.20,10.42 L562.20,10.47 L563.20,10.55 L564.20,10.66 L565.20,10.80 L566.20,10.97 L567.20,11.17 L568.20,11.40 L569.20,11.66 L570.20,11.95 L571.20,12.26 L572.20,12.61 L573.20,12.98 L574.20,13.39 L575.20,13.82 L576.20,14.28 L577.20,14.77 L578.20,15.29 L579.20,15.83 L580.20,16.41 L581.20,17.01 L582.20,17.64 L583.20,18.30 L584.20,18.99 L585.20,19.70 L586.20,20.45 L587.20,21.22 L588.20,22.01 L589.20,22.84 L590.20,23.69 L591.20,24.57 L592.20,25.48 L593.20,26.42 L594.20,27.38 L595.20,28.37 L596.20,29.38 L597.20,30.42 L598.20,31.49 L599.20,32.59 L600.20,33.71 L601.20,34.86 L602.20,36.03 L603.20,37.23 L604.20,38.46 L605.20,39.71 L606.20,40.99 L607.20,42.29 L608.20,43.62 L609.20,44.97 L610.20,46.35 L611.20,47.74 L612.20,49.17 L613.20,50.61 L614.20,52.08 L615.20,53.57 L616.20,55.08 L617.20,56.62 L618.20,58.17 L619.20,59.75 L620.20,61.34 L621.20,62.96 L622.20,64.60 L623.20,66.26 L624.20,67.93 L625.20,69.63 L626.20,71.34 L627.20,73.08 L628.20,74.83 L629.20,76.60 L630.20,78.39 L631.20,80.19 L632.20,82.01 L633.20,83.85 L634.20,85.70 L635.20,87.57 L636.20,89.46 L637.20,91.36 L638.20,93.28 L639.20,95.21 L640.20,97.16 L641.20,99.12 L642.20,101.09 L643.20,103.08 L644.20,105.08 L645.20,107.09 L646.20,109.11 L647.20,111.15 L648.20,113.20 L649.20,115.26 L650.20,117.34 L651.20,119.42 L652.20,121.51 L653.20,123.62 L654.20,125.73 L655.20,127.86 L656.20,129.99 L657.20,132.13 L658.20,134.28 L659.20,136.44 L660.20,138.61 L661.20,140.79 L662.20,142.97 L663.20,145.16 L664.20,147.36 L665.20,149.56 L666.20,151.77 L667.20,153.98 L668.20,156.20 L669.20,158.43 L669.40,158.88" fill="none" stroke="#0606cc" stroke-width="3.0" stroke-linejoin="round"/>
</g>
<rect x="377.20" y="5.30" width="292.20" height="230.60" fill="none" stroke="#000" stroke-width="1.9"/>
<text x="377.20" y="247.20" class="tk" text-anchor="middle" textLength="4.89" lengthAdjust="spacingAndGlyphs">0</text>
<text x="425.90" y="247.20" class="tk" text-anchor="middle" textLength="12.23" lengthAdjust="spacingAndGlyphs">0.5</text>
<text x="474.60" y="247.20" class="tk" text-anchor="middle" textLength="4.89" lengthAdjust="spacingAndGlyphs">1</text>
<text x="523.30" y="247.20" class="tk" text-anchor="middle" textLength="12.23" lengthAdjust="spacingAndGlyphs">1.5</text>
<text x="572.00" y="247.20" class="tk" text-anchor="middle" textLength="4.89" lengthAdjust="spacingAndGlyphs">2</text>
<text x="620.70" y="247.20" class="tk" text-anchor="middle" textLength="12.23" lengthAdjust="spacingAndGlyphs">2.5</text>
<text x="669.40" y="247.20" class="tk" text-anchor="middle" textLength="4.89" lengthAdjust="spacingAndGlyphs">3</text>
<text x="374.60" y="239.50" class="tk" text-anchor="end" textLength="4.89" lengthAdjust="spacingAndGlyphs">0</text>
<text x="374.60" y="216.44" class="tk" text-anchor="end" textLength="9.79" lengthAdjust="spacingAndGlyphs">10</text>
<text x="374.60" y="193.38" class="tk" text-anchor="end" textLength="9.79" lengthAdjust="spacingAndGlyphs">20</text>
<text x="374.60" y="170.32" class="tk" text-anchor="end" textLength="9.79" lengthAdjust="spacingAndGlyphs">30</text>
<text x="374.60" y="147.26" class="tk" text-anchor="end" textLength="9.79" lengthAdjust="spacingAndGlyphs">40</text>
<text x="374.60" y="124.20" class="tk" text-anchor="end" textLength="9.79" lengthAdjust="spacingAndGlyphs">50</text>
<text x="374.60" y="101.14" class="tk" text-anchor="end" textLength="9.79" lengthAdjust="spacingAndGlyphs">60</text>
<text x="374.60" y="78.08" class="tk" text-anchor="end" textLength="9.79" lengthAdjust="spacingAndGlyphs">70</text>
<text x="374.60" y="55.02" class="tk" text-anchor="end" textLength="9.79" lengthAdjust="spacingAndGlyphs">80</text>
<text x="374.60" y="31.96" class="tk" text-anchor="end" textLength="9.79" lengthAdjust="spacingAndGlyphs">90</text>
<text x="374.60" y="8.90" class="tk" text-anchor="end" textLength="14.68" lengthAdjust="spacingAndGlyphs">100</text>
<text x="474.30" y="260.10" class="ttl">Groove depth <tspan font-style="italic">h</tspan><tspan font-style="italic" font-size="8.5" dy="5.5">g</tspan><tspan dy="-5.5"> (</tspan><tspan font-style="italic">μ</tspan>m)</text>
<text transform="translate(351.60,157.40) rotate(-90)" class="ttl">Efficiency <tspan font-style="italic">η</tspan> (%)</text>
<text x="345.8" y="22.2" class="lab">(b)</text>
<rect x="510.8" y="62.5" width="103.6" height="52.2" fill="#fff" stroke="#6a6a6a" stroke-width="0.9"/>
<line x1="516.6" y1="70.2" x2="543.6" y2="70.2" stroke="#f2d0d5" stroke-width="1.8"/>
<line x1="516.6" y1="70.2" x2="543.6" y2="70.2" stroke="#e8b4bc" stroke-width="1.8" stroke-dasharray="5.5 1.6 1.6 1.6"/>
<text x="546.4" y="73.4" class="lg">0th (TM Modal)</text>
<line x1="516.6" y1="82.5" x2="543.6" y2="82.5" stroke="#d41010" stroke-width="3.3"/>
<text x="546.4" y="85.7" class="lg">-1st (TM Modal)</text>
<line x1="516.6" y1="95.3" x2="543.6" y2="95.3" stroke="#d4d4f0" stroke-width="1.8"/>
<line x1="516.6" y1="95.3" x2="543.6" y2="95.3" stroke="#b8b8e0" stroke-width="1.8" stroke-dasharray="5.5 1.6 1.6 1.6"/>
<text x="546.4" y="98.5" class="lg">0th (TM RCWA)</text>
<line x1="516.6" y1="107.8" x2="543.6" y2="107.8" stroke="#0606cc" stroke-width="3.3"/>
<text x="546.4" y="111.0" class="lg">-1st (TM RCWA)</text>
</svg>
</body></html>
